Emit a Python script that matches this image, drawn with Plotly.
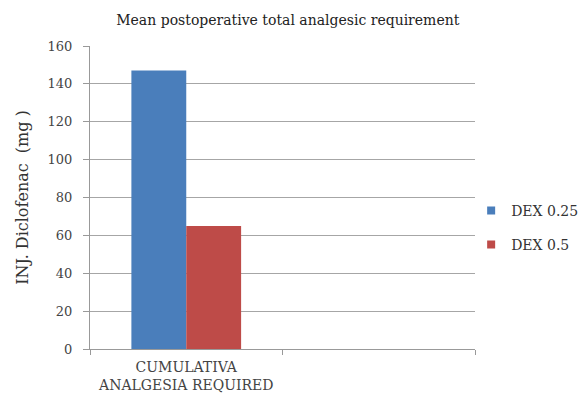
import plotly.graph_objects as go

categories = ["CUMULATIVA<br>ANALGESIA REQUIRED", " "]
dex025 = [147, None]
dex05 = [65, None]
series_names = ["DEX 0.25", "DEX 0.5"]
series_colors = ["#4a7ebb", "#be4b48"]
y_ticks = [0, 20, 40, 60, 80, 100, 120, 140, 160]

font_family = "DejaVu Serif, Liberation Serif, serif"

fig = go.Figure()
for name, vals, col in zip(series_names, [dex025, dex05], series_colors):
    fig.add_trace(go.Bar(x=categories, y=vals, name=name, showlegend=False,
                         marker=dict(color=col, line=dict(width=0))))
# legend entries with small square markers
for name, col in zip(series_names, series_colors):
    fig.add_trace(go.Scatter(x=[None], y=[None], mode="markers", name=name,
                             legendgroup=name,
                             marker=dict(symbol="square", size=8, color=col)))

fig.update_layout(
    width=571, height=389,
    margin=dict(l=82, r=104, t=38, b=48, autoexpand=False),
    paper_bgcolor="white", plot_bgcolor="white",
    font=dict(family=font_family, color="#404040", size=13),
    title=dict(text="Mean postoperative total analgesic requirement",
               x=0.49, xanchor="center", y=0.97, yanchor="middle",
               font=dict(size=14, color="#222222", family=font_family)),
    barmode="group", bargap=0.43, bargroupgap=0,
    legend=dict(x=0.99, y=0.40, xanchor="left", yanchor="middle",
                font=dict(size=14, color="#333333"), itemwidth=30,
                tracegroupgap=13, bgcolor="rgba(0,0,0,0)"),
    showlegend=True,
)
fig.update_xaxes(
    type="category", showline=True, linecolor="#999999", linewidth=1,
    ticks="outside", tickson="boundaries", ticklen=5, tickcolor="#999999",
    tickfont=dict(size=14, color="#444444"), showgrid=False, automargin=False,
    tickangle=0, ticklabelstandoff=5,
)
fig.update_yaxes(
    range=[0, 160], tickvals=y_ticks, showline=True, linecolor="#999999",
    linewidth=1, ticks="outside", ticklen=6, tickcolor="#999999",
    showgrid=True, gridcolor="#a6a6a6", gridwidth=1, zeroline=False,
    tickfont=dict(size=13, color="#444444"), automargin=False,
    ticklabelstandoff=8,
    title=dict(text="INJ. Diclofenac  (mg )", font=dict(size=16, color="#333333"),
               standoff=14),
)

fig.write_html("out.html")
